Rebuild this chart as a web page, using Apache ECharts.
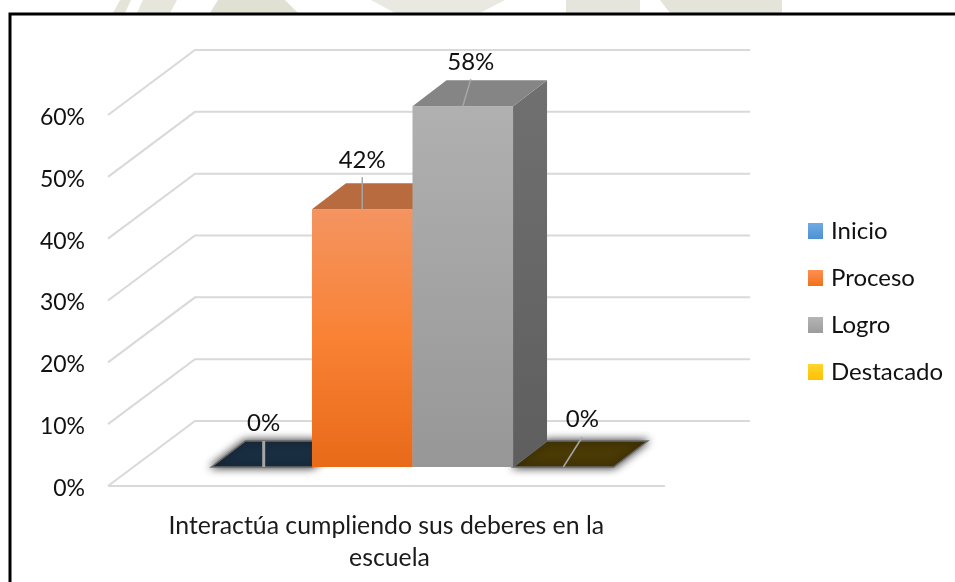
<!DOCTYPE html>
<html>
<head>
<meta charset="utf-8">
<title>Interactúa cumpliendo sus deberes en la escuela</title>
<style>
html, body { margin: 0; padding: 0; background: #fff; }
#chart { width: 955px; height: 582px; }
</style>
<script src="https://cdn.jsdelivr.net/npm/echarts@6/dist/echarts.min.js"></script>
</head>
<body>
<div id="chart"></div>
<script>
var categories = ['Interactúa cumpliendo sus deberes en la escuela'];
var seriesNames = ['Inicio', 'Proceso', 'Logro', 'Destacado'];
var inicio = [0];
var proceso = [41.67];
var logro = [58.33];
var destacado = [0];
var yTicks = [0, 10, 20, 30, 40, 50, 60];

var FONT = 'Lato';
var DEPTH_X = 87, DEPTH_Y = 65;     // desplazamiento de la pared del fondo
var BAR_X = 34, BAR_Y = 26;         // profundidad de cada barra
var FLOOR_X = 26, FLOOR_Y = 19;     // frente de las barras respecto al eje
var BAR_BAND = 0.1805;              // ancho de barra / ancho de categoria

var styles = [
	{ front: ['#66a5df', '#4f90cf'], top: '#1a2e42', side: '#16283a', legend: ['#6fabe2', '#4e91d2'] },
	{ front: ['#f49460', '#f98235', '#e86a18'], top: '#b86b3f', side: '#8a4a1c', legend: ['#ff9052', '#f0701e'] },
	{ front: ['#b0b0b0', '#979797'], top: '#858585', side: ['#707070', '#5e5e5e'], legend: ['#b5b5b5', '#9c9c9c'] },
	{ front: ['#ffd030', '#f0b400'], top: '#4a3a05', side: '#3a2d03', legend: ['#ffd530', '#ffc000'] }
];
// punto de la etiqueta y guia, relativos al centro de la cara superior
var labelGuides = [
	{ text: [2, -31], from: [2, -13], to: [2, 13] },
	{ text: [0, -36], from: [0, -19], to: [0, 13] },
	{ text: [8, -31], from: [8, -14], to: [0, 13] },
	{ text: [19, -35], from: [19, -17], to: [0, 13] }
];

function grad(c) {
	if (typeof c === 'string') return c;
	return new echarts.graphic.LinearGradient(0, 0, 0, 1, c.map(function (col, i) {
		return { offset: i / (c.length - 1), color: col };
	}));
}

function renderBar(index) {
	return function (params, api) {
		var base = api.coord([api.value(0), 0]);
		var top = api.coord([api.value(0), api.value(1)]);
		var w = api.size([1, 0])[0] * BAR_BAND;
		var x0 = base[0] + FLOOR_X + (index - 2) * w;
		var x1 = x0 + w;
		var yb = base[1] - FLOOR_Y;
		var yt = top[1] - FLOOR_Y;
		var st = styles[index];
		var val = api.value(1);
		var flat = val === 0;
		var children = [];
		if (!flat) {
			children.push({
				type: 'polygon',
				shape: { points: [[x1, yt], [x1 + BAR_X, yt - BAR_Y], [x1 + BAR_X, yb - BAR_Y], [x1, yb]] },
				style: { fill: grad(st.side) }
			});
			children.push({
				type: 'rect',
				shape: { x: x0, y: yt, width: w, height: yb - yt },
				style: { fill: grad(st.front) }
			});
		}
		children.push({
			type: 'polygon',
			shape: { points: [[x0, yt], [x0 + BAR_X, yt - BAR_Y], [x1 + BAR_X, yt - BAR_Y], [x1, yt]] },
			style: flat
				? { fill: st.top, stroke: '#6a6a6a', lineWidth: 1.5, shadowBlur: 9, shadowColor: 'rgba(0,0,0,0.85)' }
				: { fill: st.top }
		});
		var g = labelGuides[index];
		var cx = (x0 + x1) / 2, cy = yt - 13;
		children.push({
			type: 'line',
			shape: { x1: cx + g.from[0], y1: cy + g.from[1], x2: cx + g.to[0], y2: cy + g.to[1] },
			style: { stroke: '#a6a6a6', lineWidth: flat && index === 0 ? 3 : 1.5 },
			z2: 5
		});
		children.push({
			type: 'text',
			x: cx + g.text[0],
			y: cy + g.text[1],
			style: {
				text: Math.round(val) + '%',
				fill: '#111',
				font: '24px ' + FONT,
				align: 'center',
				verticalAlign: 'middle'
			},
			z2: 6
		});
		return { type: 'group', children: children };
	};
}

function renderWall(params, api) {
	var cs = params.coordSys;
	var y = api.coord([0, api.value(0)])[1];
	var left = cs.x, right = cs.x + cs.width;
	var lineStyle = { stroke: '#d9d9d9', lineWidth: 2, fill: null };
	var children = [{
		type: 'polyline',
		shape: { points: [[left, y], [left + DEPTH_X, y - DEPTH_Y], [right + DEPTH_X - 2, y - DEPTH_Y]] },
		style: lineStyle
	}];
	if (api.value(0) === 0) {
		children.push({
			type: 'line',
			shape: { x1: left, y1: y, x2: right, y2: y },
			style: lineStyle
		});
	}
	return { type: 'group', children: children };
}

var barValues = [inicio, proceso, logro, destacado];
var series = [{
	type: 'custom',
	name: 'pared',
	silent: true,
	clip: false,
	z: 1,
	renderItem: renderWall,
	encode: { y: 0 },
	data: yTicks.map(function (t) { return [t]; })
}];
seriesNames.forEach(function (name, i) {
	series.push({
		type: 'custom',
		name: name,
		clip: false,
		z: i === 3 || i === 0 ? 2 : 3,
		itemStyle: { color: grad(styles[i].legend) },
		renderItem: renderBar(i),
		encode: { x: 0, y: 1 },
		data: barValues[i].map(function (v, k) { return [k, v]; })
	});
});

function wm(points, fill) {
	return { type: 'polygon', silent: true, shape: { points: points }, style: { fill: fill } };
}

var chart = echarts.init(document.getElementById('chart'), null, { renderer: 'canvas' });
chart.setOption({
	animation: false,
	backgroundColor: '#ffffff',
	grid: { left: 108, right: 290, top: 115, bottom: 96, containLabel: false },
	legend: {
		data: seriesNames,
		orient: 'vertical',
		left: 808,
		top: 219,
		padding: 0,
		icon: 'rect',
		itemWidth: 15,
		itemHeight: 16,
		itemGap: 23,
		textStyle: { fontFamily: FONT, fontSize: 24, color: '#111', padding: [0, 0, 0, 3] }
	},
	xAxis: {
		type: 'category',
		data: categories,
		axisLine: { show: false },
		axisTick: { show: false },
		axisLabel: {
			fontFamily: FONT,
			fontSize: 24.8,
			color: '#1a1a1a',
			margin: 24,
			width: 480,
			overflow: 'break',
			lineHeight: 32,
			padding: [0, 0, 0, 6]
		}
	},
	yAxis: {
		type: 'value',
		min: 0,
		max: 60,
		interval: 10,
		axisLine: { show: false },
		axisTick: { show: false },
		splitLine: { show: false },
		axisLabel: {
			margin: 23,
			formatter: '{a|{value}%}',
			rich: {
				a: { fontFamily: FONT, fontSize: 23, color: '#111', padding: [5, 0, 0, 0] }
			}
		}
	},
	series: series,
	graphic: [
		// restos de la marca de agua sobre el marco
		wm([[113, 13], [120, 0], [131, 0], [125, 13]], '#e4e4d8'),
		wm([[137, 13], [143, 0], [177, 0], [170, 13]], '#e6e6dc'),
		wm([[210, 13], [218, 0], [285, 0], [298, 13]], '#e0e1d3'),
		wm([[371, 0], [505, 0], [480, 13], [395, 13]], '#e9e9e1'),
		wm([[566, 0], [640, 0], [640, 13], [566, 13]], '#e6e5dd'),
		wm([[660, 0], [782, 0], [782, 13], [670, 13]], '#e4e4da'),
		// marco
		{ type: 'polyline', silent: true, shape: { points: [[10, 582], [10, 14], [955, 14]] }, style: { stroke: '#000', lineWidth: 3, fill: null } }
	]
});
</script>
</body>
</html>
